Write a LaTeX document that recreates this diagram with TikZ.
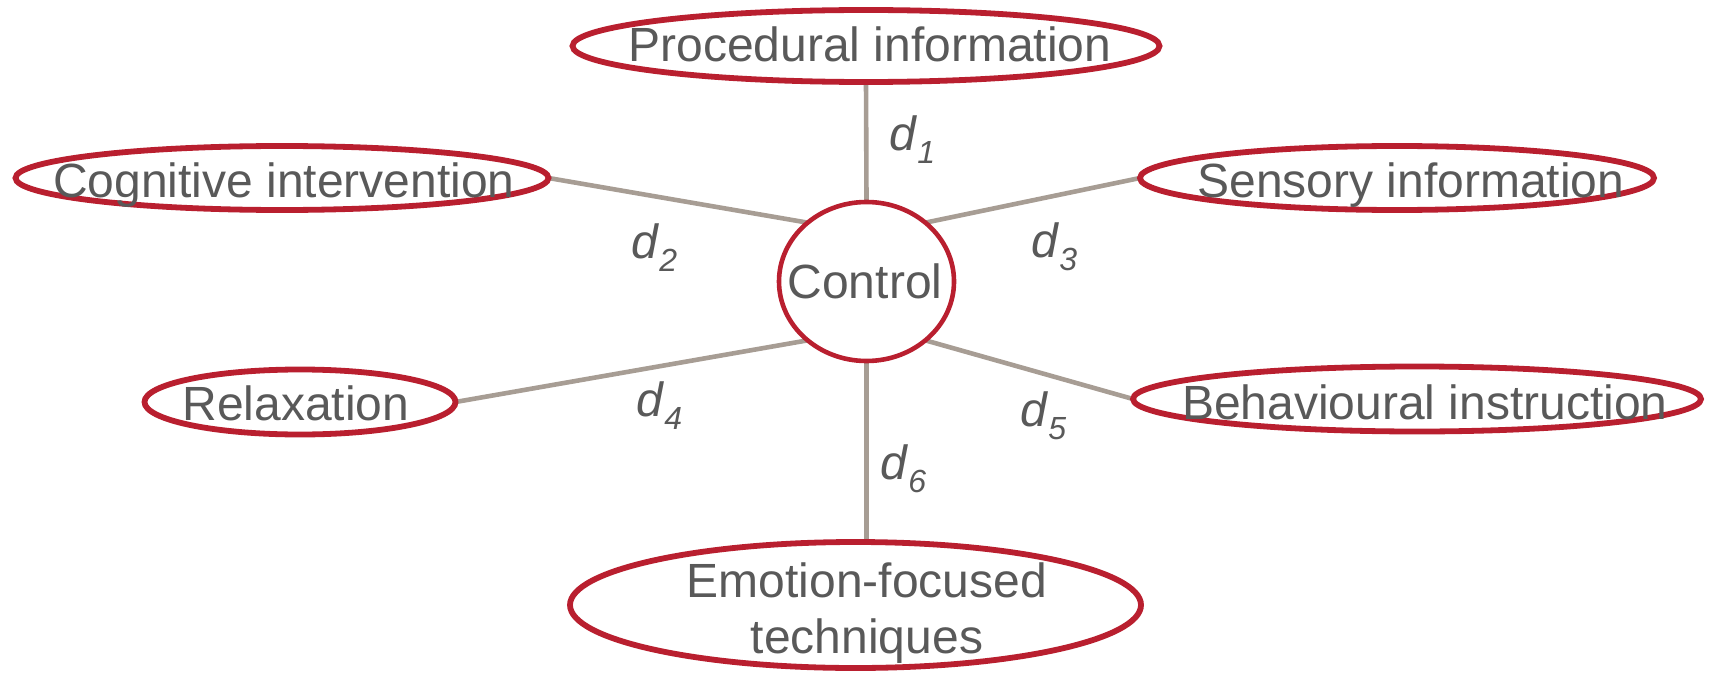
\documentclass[tikz,border=0pt]{standalone}
\usepackage{fontspec}
\setmainfont{Liberation Sans}
\usetikzlibrary{shapes.geometric,backgrounds}
\definecolor{ovalred}{HTML}{B91F2F}
\definecolor{linkgray}{HTML}{A79D94}
\definecolor{txtgray}{HTML}{595959}
\newcommand{\dsub}[1]{\textit{d}\raisebox{-6.5pt}{\fontsize{16}{16}\selectfont\itshape #1}}
\begin{document}
\begin{tikzpicture}[x=0.5pt,y=-0.5pt,
  oval/.style={draw=ovalred, line width=2.9pt, ellipse, inner sep=0pt, outer sep=0pt, fill=white},
  lbl/.style={text=txtgray, font=\fontsize{24}{28}\selectfont, inner sep=0pt, anchor=base},
  link/.style={draw=linkgray, line width=2.3pt},
  dl/.style={text=txtgray, font=\fontsize{24}{28}\selectfont, inner sep=0pt, anchor=base west}]
\useasboundingbox (0,0) rectangle (1713,674);
% ovals
\node[oval, minimum width=293.5pt, minimum height=36pt] (proc) at (866,46) {};
\node[oval, minimum width=266.5pt, minimum height=32pt] (cog) at (282,178) {};
\node[oval, minimum width=257pt, minimum height=32pt] (sens) at (1397,178) {};
\node[oval, minimum width=155.5pt, minimum height=32.5pt] (relax) at (300,402) {};
\node[oval, minimum width=284pt, minimum height=32.5pt] (behav) at (1417,399) {};
\node[oval, minimum width=285.5pt, minimum height=63pt] (emo) at (855.5,605) {};
\node[oval, line width=2.3pt, minimum width=87.5pt, minimum height=79.5pt] (ctrl) at (866.5,281.5) {};
% texts
\node[lbl] (proct) at (870,62) {Procedural information};
\node[lbl] (cogt) at (284,197) {Cognitive intervention};
\node[lbl] (senst) at (1411,197) {Sensory information};
\node[lbl] (relaxt) at (296,420) {Relaxation};
\node[lbl] (behavt) at (1425,419) {Behavioural instruction};
\node[lbl] (ctrlt) at (865,298) {Control};
\node[lbl, align=center] (emot) at (867,653) {Emotion-focused\\techniques};
% connectors
\begin{scope}[on background layer]
\draw[link] (ctrl.north) -- (proc.south);
\draw[link] (ctrl.135) -- (cog.east);
\draw[link] (ctrl.45) -- (sens.west);
\draw[link] (ctrl.225) -- (relax.east);
\draw[link] (ctrl.-45) -- (behav.west);
\draw[link] (ctrl.south) -- (ctrl.south |- emo.north);
\end{scope}
% distance labels
\node[dl] (d1) at (889,150) {\dsub{1}};
\node[dl] (d2) at (631,258) {\dsub{2}};
\node[dl] (d3) at (1031,257) {\dsub{3}};
\node[dl] (d4) at (636,416) {\dsub{4}};
\node[dl] (d5) at (1020,426) {\dsub{5}};
\node[dl] (d6) at (880,479) {\dsub{6}};
\end{tikzpicture}
\end{document}
